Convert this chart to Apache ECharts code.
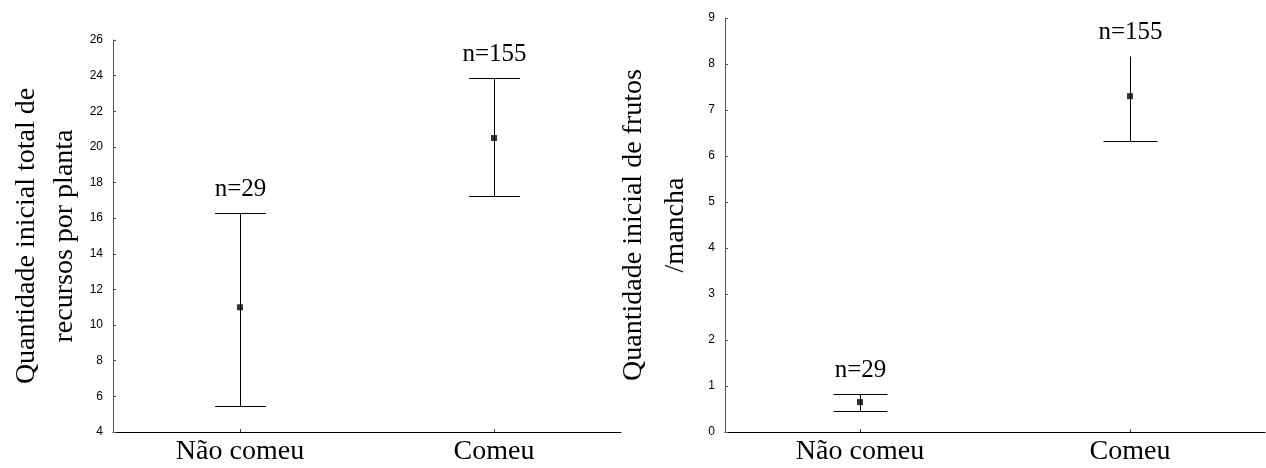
<!DOCTYPE html>
<html>
<head>
<meta charset="utf-8">
<script src="https://cdn.jsdelivr.net/npm/echarts@6/dist/echarts.min.js"></script>
<style>html,body{margin:0;padding:0;background:#fff}#c{width:1266px;height:468px}</style>
</head>
<body>
<div id="c"></div>
<script>
// ---- data ----
const categories = ['Não comeu', 'Comeu'];
const nLabels = ['n=29', 'n=155'];

// Left panel: Quantidade inicial total de recursos por planta
const leftMean = [11.0, 20.5];
const leftLow = [5.45, 17.25];
const leftHigh = [16.3, 23.85];
const leftTicks = [4, 26, 2]; // min, max, interval

// Right panel: Quantidade inicial de frutos /mancha
const rightMean = [0.65, 7.3];
const rightLow = [0.45, 6.33];
const rightHigh = [0.82, 8.17];
const rightTopCap = [true, false];
const rightTicks = [0, 9, 1];

const serif = 'Liberation Serif';
const sans = 'Liberation Sans';

function errSeries(xi, low, high, topCap) {
  return {
    type: 'custom', xAxisIndex: xi, yAxisIndex: xi,
    data: categories.map((c, i) => [i, low[i], high[i], nLabels[i], topCap ? (topCap[i] ? 1 : 0) : 1]),
    renderItem: function (params, api) {
      const x = api.value(0);
      const lo = api.coord([x, api.value(1)]);
      const hi = api.coord([x, api.value(2)]);
      const hw = api.size([1, 0])[0] * 0.1;
      const cx = Math.round(lo[0]) + 0.5;
      const yl = Math.round(lo[1]) + 0.5, yh = Math.round(hi[1]) + 0.5;
      const st = { stroke: '#000', lineWidth: 1 };
      const ch = [
        { type: 'line', shape: { x1: cx, y1: yl, x2: cx, y2: yh }, style: st },
        { type: 'line', shape: { x1: cx - hw, y1: yl, x2: cx + hw, y2: yl }, style: st },
        { type: 'text', style: { text: api.value(3), x: cx, y: yh - 12, align: 'center', verticalAlign: 'bottom', fontFamily: serif, fontSize: 25, fill: '#000' } }
      ];
      if (api.value(4)) ch.push({ type: 'line', shape: { x1: cx - hw, y1: yh, x2: cx + hw, y2: yh }, style: st });
      return { type: 'group', children: ch };
    },
    z: 2
  };
}

function pointSeries(xi, mean) {
  return {
    type: 'scatter', xAxisIndex: xi, yAxisIndex: xi,
    data: categories.map((c, i) => [i, mean[i]]),
    symbol: 'rect', symbolSize: 6,
    itemStyle: { color: '#000' }, z: 5, silent: true
  };
}

function xAx(gi) {
  return {
    type: 'category', gridIndex: gi, data: categories, boundaryGap: true,
    axisLine: { lineStyle: { color: '#000', width: 1 } },
    axisTick: { show: true, inside: true, length: 3, alignWithLabel: true, lineStyle: { color: '#444' } },
    axisLabel: { fontFamily: serif, fontSize: 28, color: '#000', margin: 6 },
    splitLine: { show: false }
  };
}

function yAx(gi, t, name, gap, lh) {
  return {
    type: 'value', gridIndex: gi, min: t[0], max: t[1], interval: t[2],
    name: name, nameLocation: 'middle', nameGap: gap, nameRotate: 90,
    nameTextStyle: { fontFamily: serif, fontSize: 28, color: '#000', lineHeight: lh },
    axisLine: { show: true, lineStyle: { color: '#555', width: 1 } },
    axisTick: { show: true, inside: true, length: 3, lineStyle: { color: '#555' } },
    axisLabel: { fontFamily: sans, fontSize: 12, color: '#000', margin: 10 },
    splitLine: { show: false }
  };
}

const chart = echarts.init(document.getElementById('c'), null, { renderer: 'canvas' });
chart.setOption({
  animation: false,
  backgroundColor: '#fff',
  grid: [
    { left: 113, top: 40, width: 508, height: 392 },
    { left: 725, top: 18, width: 540, height: 414 }
  ],
  xAxis: [xAx(0), xAx(1)],
  yAxis: [
    yAx(0, leftTicks, 'Quantidade inicial total de\nrecursos por planta', 29, 38),
    yAx(1, rightTicks, 'Quantidade inicial de frutos\n/mancha', 28, 42)
  ],
  series: [
    errSeries(0, leftLow, leftHigh, null),
    pointSeries(0, leftMean),
    errSeries(1, rightLow, rightHigh, rightTopCap),
    pointSeries(1, rightMean)
  ]
});
</script>
</body>
</html>
